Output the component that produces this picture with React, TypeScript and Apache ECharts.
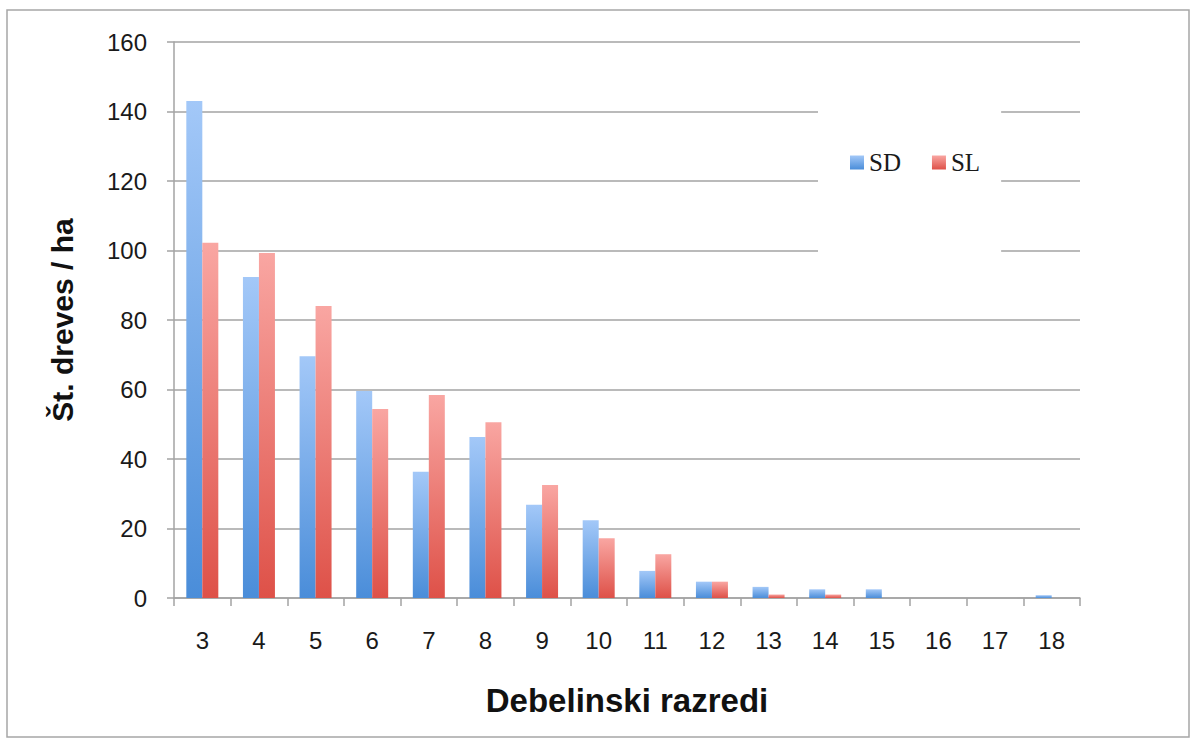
import React, { useEffect, useRef } from "react";
import * as echarts from "echarts";

// Diameter classes (debelinski razredi)
const categories: string[] = ["3", "4", "5", "6", "7", "8", "9", "10", "11", "12", "13", "14", "15", "16", "17", "18"];

// Number of trees per hectare
const sdValues: number[] = [143, 92.4, 69.6, 59.6, 36.3, 46.3, 26.8, 22.4, 7.8, 4.7, 3.2, 2.5, 2.5, 0, 0, 0.8];
const slValues: number[] = [102.2, 99.3, 84, 54.4, 58.4, 50.6, 32.5, 17.2, 12.6, 4.7, 1, 1, 0, 0, 0, 0];

const yMin = 0;
const yMax = 160;
const yStep = 20;

const W = 1195;
const H = 744;

const blueFill = () =>
  new echarts.graphic.LinearGradient(0, 0, 0, 1, [
    { offset: 0, color: "#a3c8f8" },
    { offset: 1, color: "#4a8dd9" },
  ]);

const redFill = () =>
  new echarts.graphic.LinearGradient(0, 0, 0, 1, [
    { offset: 0, color: "#f9a6a2" },
    { offset: 1, color: "#de5148" },
  ]);

export default function App() {
  const ref = useRef<HTMLDivElement>(null);

  useEffect(() => {
    if (!ref.current) return;
    const chart = echarts.init(ref.current, null, { renderer: "svg" });

    const gridColor = "#a3a3a3";
    const sansFont = "'Liberation Sans', Arial, sans-serif";

    chart.setOption({
      animation: false,
      backgroundColor: "#ffffff",
      grid: { left: 174, right: W - 1080, top: 42, bottom: H - 598, containLabel: false },
      legend: {
        left: 818,
        top: 104,
        orient: "horizontal",
        itemWidth: 14,
        itemHeight: 14,
        itemGap: 31,
        icon: "rect",
        backgroundColor: "#ffffff",
        padding: [46, 21, 81, 32],
        textStyle: { fontFamily: "'Liberation Serif', 'Times New Roman', serif", fontSize: 25, color: "#1a1a1a" },
        data: ["SD", "SL"],
      },
      xAxis: {
        type: "category",
        data: categories,
        boundaryGap: true,
        axisLine: { show: true, lineStyle: { color: gridColor, width: 1.5 } },
        axisTick: { show: true, length: 8, interval: 0, lineStyle: { color: gridColor, width: 1.5 } },
        axisLabel: { interval: 0, margin: 30, fontFamily: sansFont, fontSize: 24, color: "#1a1a1a" },
        splitLine: { show: false },
      },
      yAxis: {
        type: "value",
        min: yMin,
        max: yMax,
        interval: yStep,
        axisLine: { show: true, lineStyle: { color: gridColor, width: 1.5 } },
        axisTick: { show: true, length: 7, lineStyle: { color: gridColor, width: 1.5 } },
        axisLabel: { margin: 27, fontFamily: sansFont, fontSize: 24, color: "#1a1a1a" },
        splitLine: { show: true, lineStyle: { color: gridColor, width: 1.5 } },
      },
      series: [
        {
          name: "SD",
          type: "bar",
          data: sdValues,
          barWidth: 16,
          barGap: "0%",
          itemStyle: { color: blueFill() },
        },
        {
          name: "SL",
          type: "bar",
          data: slValues,
          barWidth: 16,
          barGap: "0%",
          itemStyle: { color: redFill() },
        },
      ],
      graphic: [
        {
          type: "rect",
          z: -10,
          silent: true,
          shape: { x: 7, y: 10, width: 1182, height: 727 },
          style: { fill: "none", stroke: "#a6a6a6", lineWidth: 1.5 },
        },
        {
          type: "text",
          x: 62,
          y: 320,
          rotation: Math.PI / 2,
          style: {
            text: "Št. dreves / ha",
            fontFamily: sansFont,
            fontWeight: "bold",
            fontSize: 30,
            fill: "#111111",
            align: "center",
            verticalAlign: "middle",
          },
        },
        {
          type: "text",
          x: 627,
          y: 700,
          style: {
            text: "Debelinski razredi",
            fontFamily: sansFont,
            fontWeight: "bold",
            fontSize: 33,
            fill: "#111111",
            align: "center",
            verticalAlign: "middle",
          },
        },
      ],
    });

    return () => {
      chart.dispose();
    };
  }, []);

  return (
    <div
      ref={ref}
      style={{ position: "absolute", left: 0, top: 0, width: W, height: H }}
    />
  );
}
